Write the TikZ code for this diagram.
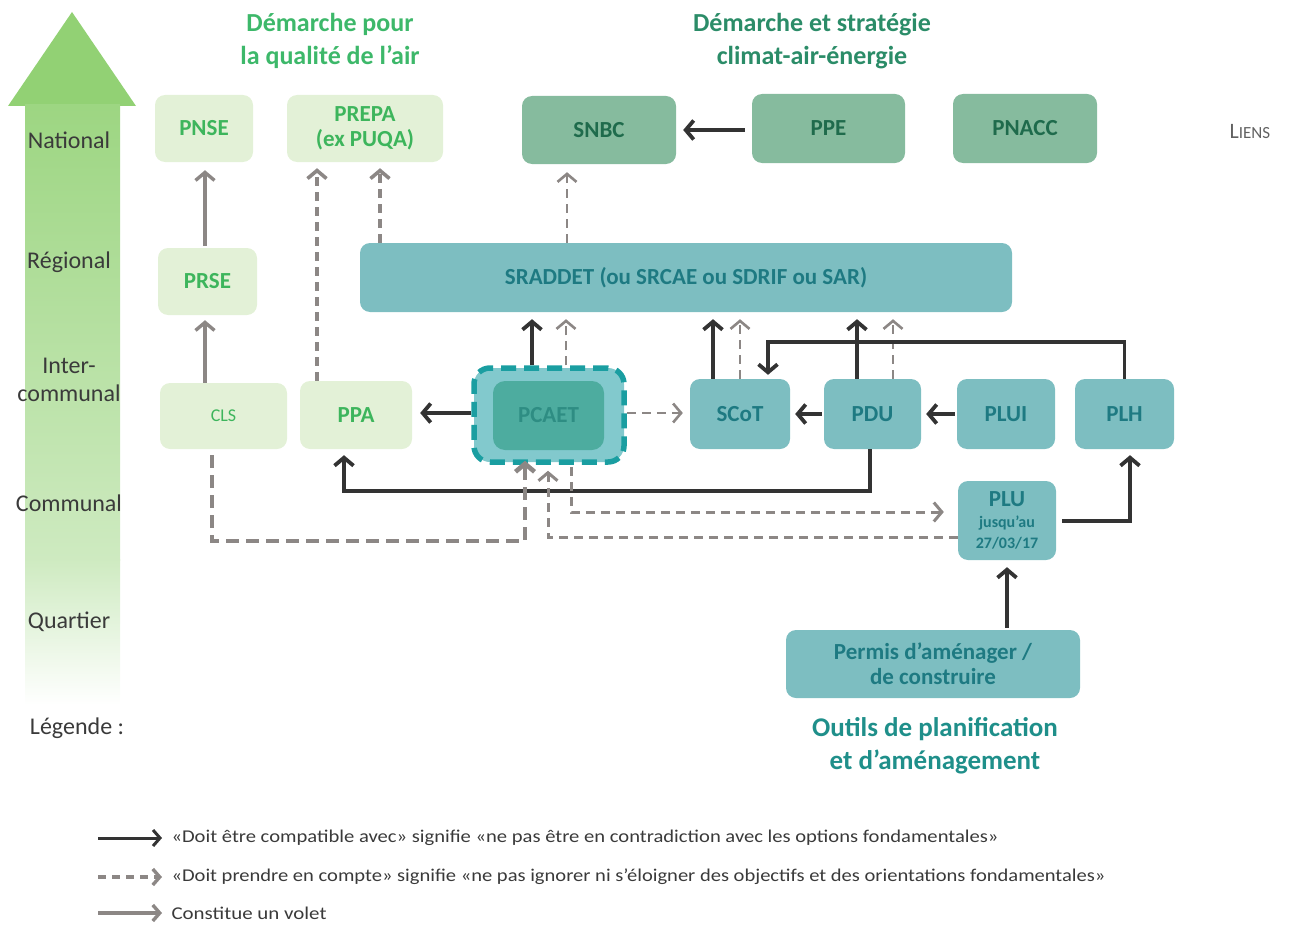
\documentclass[tikz,border=0pt]{standalone}
\usepackage{fontspec}
\usepackage{graphicx}
\setmainfont{Carlito}
\usetikzlibrary{arrows.meta,calc}
\definecolor{lgfill}{HTML}{E3F1D7}
\definecolor{lgtxt}{HTML}{3DB55C}
\definecolor{gnfill}{HTML}{86BB9E}
\definecolor{gntxt}{HTML}{1F6B4C}
\definecolor{tlfill}{HTML}{7DBEC1}
\definecolor{tltxt}{HTML}{1E7A82}
\definecolor{pcout}{HTML}{82C9CD}
\definecolor{pcin}{HTML}{4DAC9F}
\definecolor{pcbord}{HTML}{1A9EA1}
\definecolor{pctxt}{HTML}{2E8D83}
\definecolor{dkline}{HTML}{333333}
\definecolor{grline}{HTML}{8C8785}
\definecolor{lvltxt}{HTML}{3A3A3A}
\definecolor{arrgreen}{HTML}{92D174}
\definecolor{head1}{HTML}{3DB86A}
\definecolor{head2}{HTML}{2B8C68}
\definecolor{head3}{HTML}{1F8F8A}
\begin{document}
\begin{tikzpicture}[x=1pt,y=-1pt,
  box/.style={rounded corners=10pt, inner sep=0pt, align=center, font=\fontsize{23}{25}\selectfont\bfseries},
  lgbox/.style={box, fill=lgfill, text=lgtxt},
  gnbox/.style={box, fill=gnfill, text=gntxt},
  tlbox/.style={box, fill=tlfill, text=tltxt},
  tip/.style={-{Straight Barb[length=8pt,width=19pt]}},
  dk/.style={tip, draw=dkline, line width=3.8pt},
  gr/.style={tip, draw=grline, line width=3.4pt},
  ds/.style={tip, draw=grline, line width=3.2pt, dash pattern=on 9pt off 6pt},
  dsb/.style={tip, draw=grline, line width=4.6pt, dash pattern=on 13pt off 7pt},
  lvl/.style={text=lvltxt, align=center, font=\fontsize{24}{28}\selectfont},
  hd/.style={align=center, font=\fontsize{26}{33}\selectfont\bfseries},
  leg/.style={anchor=west, text=lvltxt, font=\fontsize{18}{20}\selectfont}
]
\useasboundingbox (0,0) rectangle (1295,931);

% big green arrow
\fill[arrgreen] (72,12) -- (136,106) -- (8,106) -- cycle;
\shade[top color=arrgreen!90, bottom color=arrgreen!45] (25,105) rectangle (120,560);
\shade[top color=arrgreen!45, bottom color=white] (25,559) rectangle (120,705);

% level labels
\node[lvl] (lnat) at (69,140) {National};
\node[lvl] (lreg) at (69,262) {Régional};
\node[lvl] (linter) at (69,380) {Inter-\\communal};
\node[lvl] (lcom) at (69,503) {Communal};
\node[lvl] (lqua) at (69,622) {Quartier};
\node[lvl] (lleg) at (77,728) {Légende :};

% headings
\node[hd, text=head1] (h1) at (330,41) {Démarche pour\\la qualité de l'air};
\node[hd, text=head2] (h2) at (812,41) {Démarche et stratégie\\climat-air-énergie};
\node[hd, text=head3, font=\fontsize{27}{33}\selectfont\bfseries] (h3) at (935,746) {Outils de planification\\et d'aménagement};
\node[text=lvltxt!80, anchor=west] (liens) at (1226,132) {\fontsize{22}{24}\selectfont L\fontsize{17}{19}\selectfont IENS};

% boxes
\node[lgbox, minimum width=98, minimum height=67] (pnse) at (204,128.5) {PNSE};
\node[lgbox, minimum width=156, minimum height=67] (prepa) at (365,128.5) {PREPA\\(ex PUQA)};
\node[gnbox, minimum width=154, minimum height=68] (snbc) at (599,130) {SNBC};
\node[gnbox, minimum width=153, minimum height=69] (ppe) at (828.5,128.5) {PPE};
\node[gnbox, minimum width=144, minimum height=69] (pnacc) at (1025,128.5) {PNACC};
\node[tlbox, minimum width=652, minimum height=69] (sraddet) at (686,277.5) {SRADDET (ou SRCAE ou SDRIF ou SAR)};
\node[lgbox, minimum width=99, minimum height=67] (prse) at (207.5,281.5) {PRSE};
\node[lgbox, minimum width=127, minimum height=66, font=\fontsize{18}{20}\selectfont] (cls) at (223.5,416) {CLS};
\node[lgbox, minimum width=112, minimum height=68] (ppa) at (356,415) {PPA};
\node[rounded corners=16pt, fill=pcout, draw=pcbord, line width=5.5pt, dash pattern=on 15pt off 8pt, minimum width=150, minimum height=94, inner sep=0pt] (pcaet) at (549,415) {};
\node[tlbox, minimum width=100, minimum height=70] (scot) at (740,414) {SCoT};
\node[tlbox, minimum width=97, minimum height=70] (pdu) at (872.5,414) {PDU};
\node[tlbox, minimum width=98, minimum height=70] (plui) at (1006,414) {PLUI};
\node[tlbox, minimum width=99, minimum height=70] (plh) at (1124.5,414) {PLH};
\node[tlbox, minimum width=98, minimum height=79] (plu) at (1007,520.5) {PLU\\[-4pt]{\fontsize{16}{17}\selectfont jusqu'au}\\[-4pt]{\fontsize{16}{17}\selectfont 27/03/17}};
\node[tlbox, minimum width=294, minimum height=68] (permis) at (933,664) {Permis d'aménager /\\de construire};

% connectors leaving PCAET (drawn under inner box)
\draw[dk, shorten >=8pt] (pcaet.west |- 0,413) -- (ppa.east |- 0,413);
\draw[dk, shorten >=7pt] (pcaet.north -| 532,0) -- (sraddet.south -| 532,0);
\draw[ds, line width=2.6pt, shorten >=7pt] (pcaet.north -| 566,0) -- (sraddet.south -| 566,0);
\draw[ds, line width=2.6pt, shorten >=7pt] (pcaet.east |- 0,413) -- (scot.west |- 0,413);
\node[box, fill=pcin, text=pctxt, rounded corners=12pt, minimum width=111, minimum height=69] (pcaetin) at (548.5,415.5) {PCAET};

% other connectors
\draw[dk, shorten <=7pt, shorten >=7pt] (ppe.west |- snbc.east) -- (snbc.east);
\draw[gr, shorten <=2pt, shorten >=8pt] (prse.north -| 205,0) -- (pnse.south -| 205,0);
\draw[gr, shorten >=5pt] (cls.north -| 205,0) -- (prse.south -| 205,0);
\draw[ds, line width=3.6pt, shorten >=6pt] (ppa.north -| 317,0) -- (prepa.south -| 317,0);
\draw[ds, line width=3.6pt, shorten >=6pt] (sraddet.north -| 380,0) -- (prepa.south -| 380,0);
\draw[ds, line width=2.6pt, shorten >=8pt] (sraddet.north -| 567,0) -- (snbc.south -| 567,0);
\draw[dk, shorten >=7pt] (scot.north -| 713,0) -- (sraddet.south -| 713,0);
\draw[ds, line width=2.6pt, shorten >=7pt] (scot.north -| 740,0) -- (sraddet.south -| 740,0);
\draw[dk, shorten >=7pt] (pdu.north -| 857,0) -- (sraddet.south -| 857,0);
\draw[ds, line width=2.6pt, shorten >=7pt] (pdu.north -| 893,0) -- (sraddet.south -| 893,0);
\draw[dk, shorten >=4pt] (plh.north) -- (plh.north |- 0,342) -| ([xshift=28pt]scot.north);
\draw[dk, shorten <=2pt, shorten >=5pt] (pdu.west) -- (scot.east);
\draw[dk, shorten <=2pt, shorten >=5pt] (plui.west) -- (pdu.east);
\draw[dk, shorten >=6pt] (pdu.south -| 870,0) -- (870,491) -| (ppa.south -| 344,0);
\draw[dsb, shorten <=6pt, shorten >=-4pt] (cls.south -| 212,0) -- (212,541) -| (pcaet.south -| 525,0);
\draw[ds, line width=3pt, shorten >=6pt] (plu.west |- 0,537) -| (pcaet.south -| 548,0);
\draw[ds, line width=3pt, shorten <=2pt, shorten >=14pt] (pcaet.south -| 571,0) |- (plu.west |- 0,512);
\draw[dk, shorten <=6pt, shorten >=6pt] (plu.east |- 0,521) -| (plh.south -| 1130,0);
\draw[dk, shorten <=2pt, shorten >=7pt] (permis.north -| 1007,0) -- (plu.south);

% legend
\coordinate (l1a) at (98,838); \coordinate (l1b) at (162,838);
\coordinate (l2a) at (98,877); \coordinate (l2b) at (162,877);
\coordinate (l3a) at (98,913); \coordinate (l3b) at (162,913);
\draw[dk, line width=3pt, -{Straight Barb[length=7pt,width=16pt]}] (l1a) -- (l1b);
\draw[ds, line width=3.4pt, dash pattern=on 8pt off 6pt, -{Straight Barb[length=7pt,width=16pt]}] (l2a) -- (l2b);
\draw[gr, line width=3.4pt, -{Straight Barb[length=7pt,width=16pt]}] (l3a) -- (l3b);
\node[leg] (t1) at (168,838) {\resizebox{827pt}{\height}{«Doit être compatible avec» signifie «ne pas être en contradiction avec les options fondamentales»}};
\node[leg] (t2) at (168,877) {\resizebox{934pt}{\height}{«Doit prendre en compte» signifie «ne pas ignorer ni s'éloigner des objectifs et des orientations fondamentales»}};
\node[leg] (t3) at (168,913) {\resizebox{155pt}{\height}{Constitue un volet}};
\end{tikzpicture}
\end{document}
